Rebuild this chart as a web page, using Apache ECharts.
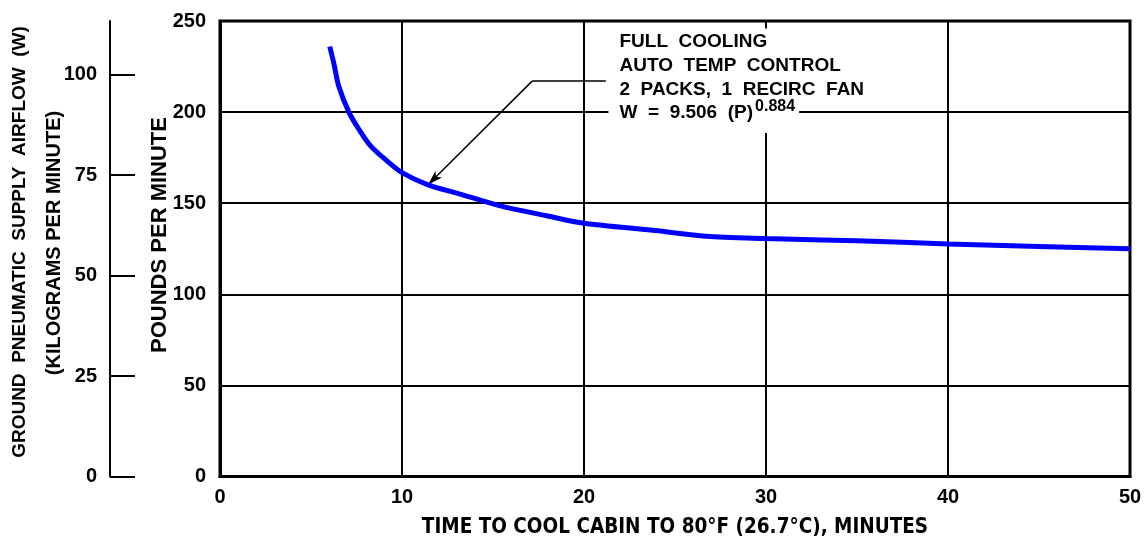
<!DOCTYPE html>
<html><head><meta charset="utf-8">
<script src="https://cdn.jsdelivr.net/npm/echarts@6/dist/echarts.min.js"></script>
<style>html,body{margin:0;padding:0;background:#fff}#c{width:1148px;height:541px}</style>
</head><body><div id="c"></div>
<script>
// ---- data ----
const timeMinutes = [6.03, 6.26, 6.53, 7.08, 7.63, 8.27, 9.18, 10.0, 11.43, 13.2, 15.4, 17.95, 20, 23.9, 26.7, 30, 35, 40, 45, 50];
const poundsPerMinute = [236, 226.5, 214, 200, 190.6, 181.5, 173.2, 166.8, 160.1, 155, 148.5, 143.1, 139, 135, 131.8, 130.6, 129.4, 127.6, 126.3, 125];
const xTickValues = [0, 10, 20, 30, 40, 50];
const lbTickValues = [0, 50, 100, 150, 200, 250];
const kgTickValues = [0, 25, 50, 75, 100];
const LB_PER_KG = 2.20462;
const annotationLines = ['FULL  COOLING', 'AUTO  TEMP  CONTROL', '2  PACKS,  1  RECIRC  FAN', 'W  =  9.506  (P)'];
const annotationExponent = '0.884';
const arrowTip = [11.43, 160.1];
const arrowElbow = [17.15, 217];
const leaderEnd = [21.2, 217];
const annotationAnchor = [21.95, 238.5];
const xTitle = 'TIME TO COOL CABIN TO 80°F (26.7°C), MINUTES';
const lbTitle = 'POUNDS PER MINUTE';
const kgTitle1 = 'GROUND  PNEUMATIC  SUPPLY  AIRFLOW  (W)';
const kgTitle2 = '(KILOGRAMS PER MINUTE)';

const FONT = "'Liberation Sans', Arial, sans-serif";
const NARROW = "'Liberation Sans Narrow', 'DejaVu Sans Condensed', sans-serif";

const chart = echarts.init(document.getElementById('c'), null, {renderer: 'canvas'});
const option = {
  animation: false,
  backgroundColor: '#fff',
  grid: {left: 220, right: 18, top: 21, bottom: 64.5, containLabel: false, outerBoundsMode: 'none',
    show: true, borderColor: '#000', borderWidth: 3, backgroundColor: 'transparent'},
  xAxis: {
    type: 'value', min: 0, max: 50, interval: 10,
    axisLine: {show: true, lineStyle: {color: '#000', width: 3}},
    axisTick: {show: false},
    axisLabel: {color: '#000', fontFamily: FONT, fontWeight: 'bold', fontSize: 20, margin: 11,
      customValues: xTickValues},
    splitLine: {show: true, lineStyle: {color: '#000', width: 2}},
    name: xTitle, nameLocation: 'middle', nameGap: 41,
    nameTextStyle: {color: '#000', fontFamily: NARROW, fontWeight: 'bold', fontSize: 20.5}
  },
  yAxis: [{
    type: 'value', min: 0, max: 250, interval: 50, position: 'left',
    axisLine: {show: true, lineStyle: {color: '#000', width: 3}},
    axisTick: {show: false},
    axisLabel: {color: '#000', fontFamily: FONT, fontWeight: 'bold', fontSize: 20, margin: 14,
      customValues: lbTickValues},
    splitLine: {show: true, lineStyle: {color: '#000', width: 2}}
  }, {
    type: 'value', min: 0, max: 250 / LB_PER_KG, position: 'left', offset: 110,
    axisLine: {show: true, onZero: false, lineStyle: {color: '#000', width: 2}},
    axisTick: {show: true, inside: true, length: 25, lineStyle: {color: '#000', width: 2}, customValues: kgTickValues},
    axisLabel: {color: '#000', fontFamily: FONT, fontWeight: 'bold', fontSize: 20, margin: 13, customValues: kgTickValues},
    splitLine: {show: false}
  }],
  series: [{
    type: 'line', xAxisIndex: 0, yAxisIndex: 0,
    data: timeMinutes.map((t, i) => [t, poundsPerMinute[i]]),
    smooth: 0.3, showSymbol: false, symbol: 'none',
    lineStyle: {color: '#0000ff', width: 5}, z: 5,
    markLine: {
      silent: true, animation: false, symbol: ['none', 'none'],
      label: {show: false},
      lineStyle: {color: '#000', width: 1.5, type: 'solid'},
      data: [
        [{coord: leaderEnd}, {coord: arrowElbow}],
        [{coord: arrowElbow}, {coord: arrowTip, symbol: 'arrow', symbolSize: [7, 15]}]
      ]
    }
  }]
};
chart.setOption(option);

const anchorPx = chart.convertToPixel({gridIndex: 0}, annotationAnchor);
const lineGap = 23.7;
const padLeft = 11;
const supRich = {sup: {fontSize: 16, fontWeight: 'bold', fontFamily: FONT, verticalAlign: 'top', padding: [0, 0, 12, 2]}};
const graphics = [];
annotationLines.forEach((txt, i) => {
  const last = i === annotationLines.length - 1;
  const text = last ? txt + '{sup|' + annotationExponent + '}' : txt;
  const base = {x: anchorPx[0] - padLeft, y: anchorPx[1] + i * lineGap};
  // white background layer
  graphics.push(Object.assign({type: 'text', z: 90}, base, {style: {
    text: text, fill: '#fff', font: 'bold 19px ' + FONT, verticalAlign: 'middle', align: 'left',
    backgroundColor: '#fff', padding: [i === 0 ? 2 : 6, 4, 6, padLeft], rich: last ? supRich : undefined
  }}));
  // text layer
  graphics.push(Object.assign({type: 'text', z: 100}, base, {style: {
    text: text, fill: '#000', font: 'bold 19px ' + FONT, verticalAlign: 'middle', align: 'left',
    padding: [i === 0 ? 2 : 6, 4, 6, padLeft], rich: last ? supRich : undefined
  }}));
});
graphics.push(
  {type: 'text', z: 50, x: 20, y: 242, rotation: Math.PI / 2,
   style: {text: kgTitle1, fill: '#000', font: 'bold 19px ' + FONT, align: 'center', verticalAlign: 'middle'}},
  {type: 'text', z: 50, x: 54.5, y: 243, rotation: Math.PI / 2,
   style: {text: kgTitle2, fill: '#000', font: 'bold 20px ' + FONT, align: 'center', verticalAlign: 'middle'}},
  {type: 'text', z: 50, x: 160, y: 235, rotation: Math.PI / 2,
   style: {text: lbTitle, fill: '#000', font: 'bold 22px ' + FONT, align: 'center', verticalAlign: 'middle'}}
);
chart.setOption({graphic: graphics});
</script></body></html>
